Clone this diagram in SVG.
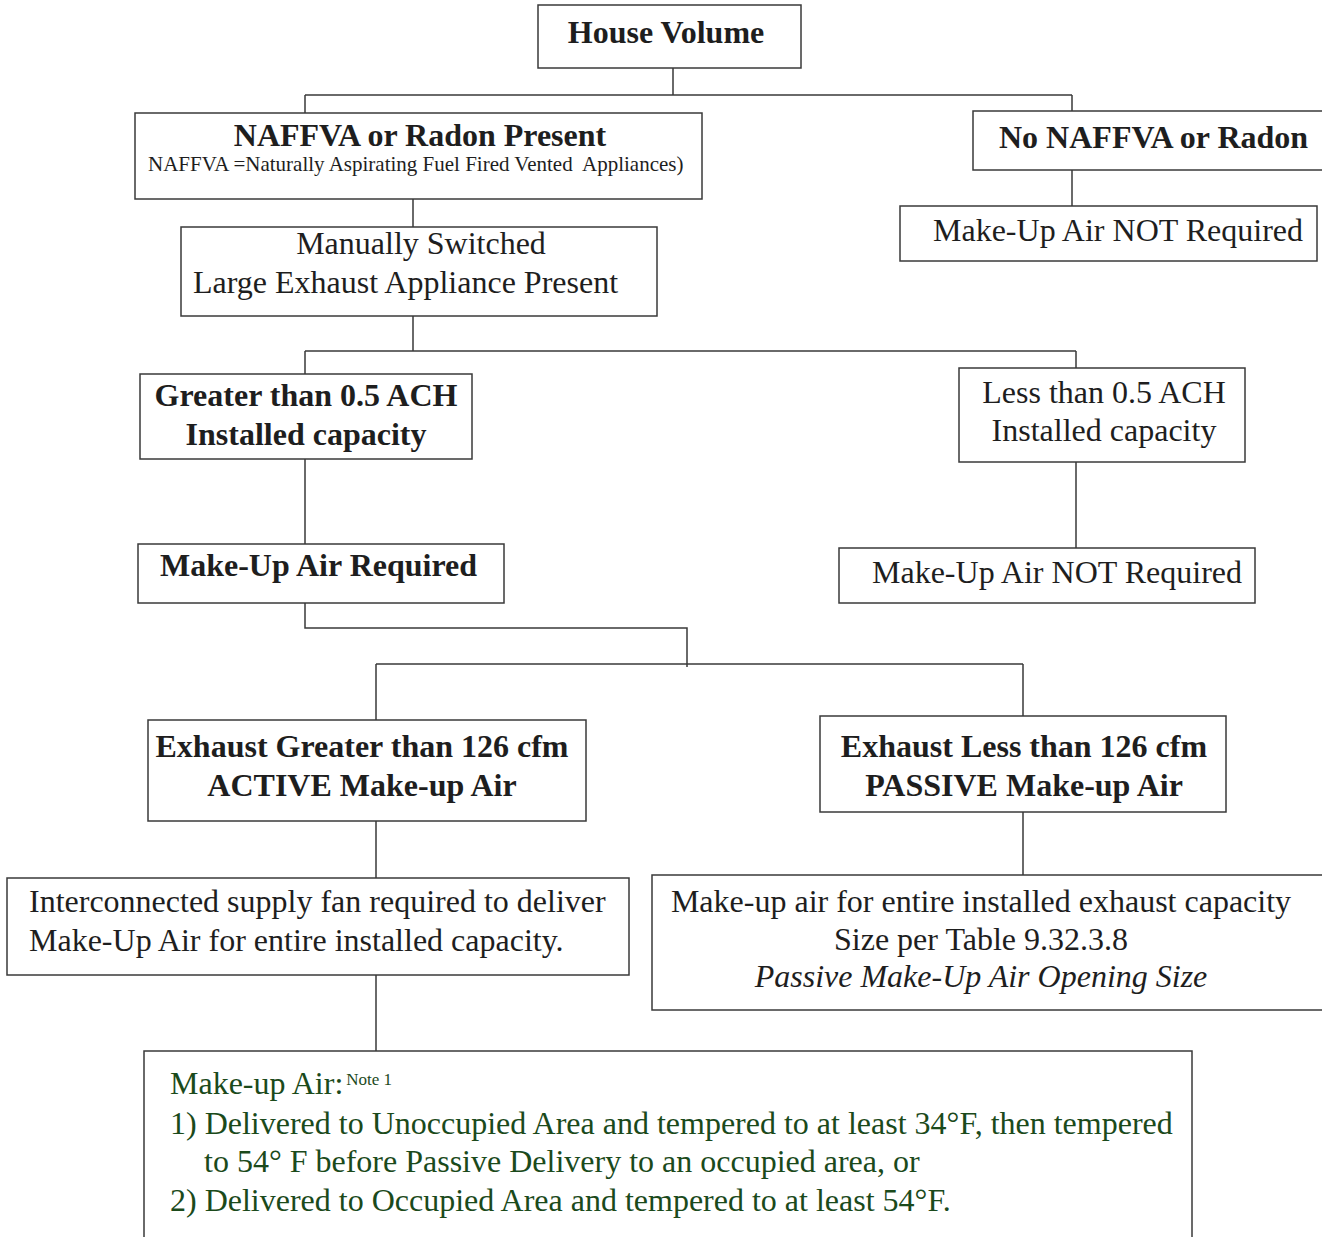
<svg xmlns="http://www.w3.org/2000/svg" width="1322" height="1237" viewBox="0 0 1322 1237">
<style>
.box{fill:#fff;stroke:#3a3a3a;stroke-width:1.5}
.ln{fill:none;stroke:#3a3a3a;stroke-width:1.5}
text{font-family:"Liberation Serif","Times New Roman",serif;fill:#1e1e1e;font-size:32px}
.b{font-weight:bold}
.c{text-anchor:middle}
.g{fill:#1b4a1b;font-size:32px}
</style>
<rect width="1322" height="1237" fill="#fff"/>
<g id="connectors">
<path class="ln" d="M673,68V95M305,95H1072M305,95V113M1072,95V111"/>
<path class="ln" d="M1072,170V206"/>
<path class="ln" d="M413,199V227M413,316V351M305,351H1076M305,351V374M1076,351V368"/>
<path class="ln" d="M305,459V544M1076,462V548"/>
<path class="ln" d="M305,603V628H687V667M376,664H1023M376,664V720M1023,664V716"/>
<path class="ln" d="M376,821V878M1023,812V875M376,975V1051"/>
</g>
<g id="house-volume">
<rect class="box" x="538" y="5" width="263" height="63"/>
<text class="b c" x="666" y="43">House Volume</text>
</g>
<g id="naffva-present">
<rect class="box" x="135" y="113" width="567" height="86"/>
<text class="b c" x="420" y="146">NAFFVA or Radon Present</text>
<text x="148" y="171" style="font-size:21px;white-space:pre">NAFFVA =Naturally Aspirating Fuel Fired Vented  Appliances)</text>
</g>
<g id="no-naffva">
<rect class="box" x="973" y="111" width="360" height="59"/>
<text class="b" x="999" y="148">No NAFFVA or Radon</text>
</g>
<g id="not-required-1">
<rect class="box" x="900" y="206" width="417" height="55"/>
<text x="933" y="241">Make-Up Air NOT Required</text>
</g>
<g id="manually-switched">
<rect class="box" x="181" y="227" width="476" height="89"/>
<text class="c" x="421" y="254">Manually Switched</text>
<text x="193" y="293">Large Exhaust Appliance Present</text>
</g>
<g id="greater-05">
<rect class="box" x="140" y="374" width="332" height="85"/>
<text class="b c" x="306" y="406">Greater than 0.5 ACH</text>
<text class="b c" x="306" y="445">Installed capacity</text>
</g>
<g id="less-05">
<rect class="box" x="959" y="368" width="286" height="94"/>
<text class="c" x="1104" y="403">Less than 0.5 ACH</text>
<text class="c" x="1104" y="441">Installed capacity</text>
</g>
<g id="required">
<rect class="box" x="138" y="544" width="366" height="59"/>
<text class="b" x="160" y="576">Make-Up Air Required</text>
</g>
<g id="not-required-2">
<rect class="box" x="839" y="548" width="416" height="55"/>
<text x="872" y="583">Make-Up Air NOT Required</text>
</g>
<g id="active">
<rect class="box" x="148" y="720" width="438" height="101"/>
<text class="b c" x="362" y="757">Exhaust Greater than 126 cfm</text>
<text class="b c" x="362" y="796">ACTIVE Make-up Air</text>
</g>
<g id="passive">
<rect class="box" x="820" y="716" width="406" height="96"/>
<text class="b c" x="1024" y="757">Exhaust Less than 126 cfm</text>
<text class="b c" x="1024" y="796">PASSIVE Make-up Air</text>
</g>
<g id="interconnected">
<rect class="box" x="7" y="878" width="622" height="97"/>
<text x="29" y="912">Interconnected supply fan required to deliver</text>
<text x="29" y="951">Make-Up Air for entire installed capacity.</text>
</g>
<g id="passive-size">
<rect class="box" x="652" y="875" width="690" height="135"/>
<text class="c" x="981" y="912">Make-up air for entire installed exhaust capacity</text>
<text class="c" x="981" y="950">Size per Table 9.32.3.8</text>
<text class="c" x="981" y="987" font-style="italic">Passive Make-Up Air Opening Size</text>
</g>
<g id="make-up-air-note">
<rect class="box" x="144" y="1051" width="1048" height="200"/>
<text class="g" x="170" y="1094">Make-up Air:<tspan font-size="17" dx="3" dy="-9">Note 1</tspan></text>
<text class="g" x="170" y="1134">1) Delivered to Unoccupied Area and tempered to at least 34°F, then tempered</text>
<text class="g" x="204" y="1172">to 54° F before Passive Delivery to an occupied area, or</text>
<text class="g" x="170" y="1211">2) Delivered to Occupied Area and tempered to at least 54°F.</text>
</g>
</svg>
